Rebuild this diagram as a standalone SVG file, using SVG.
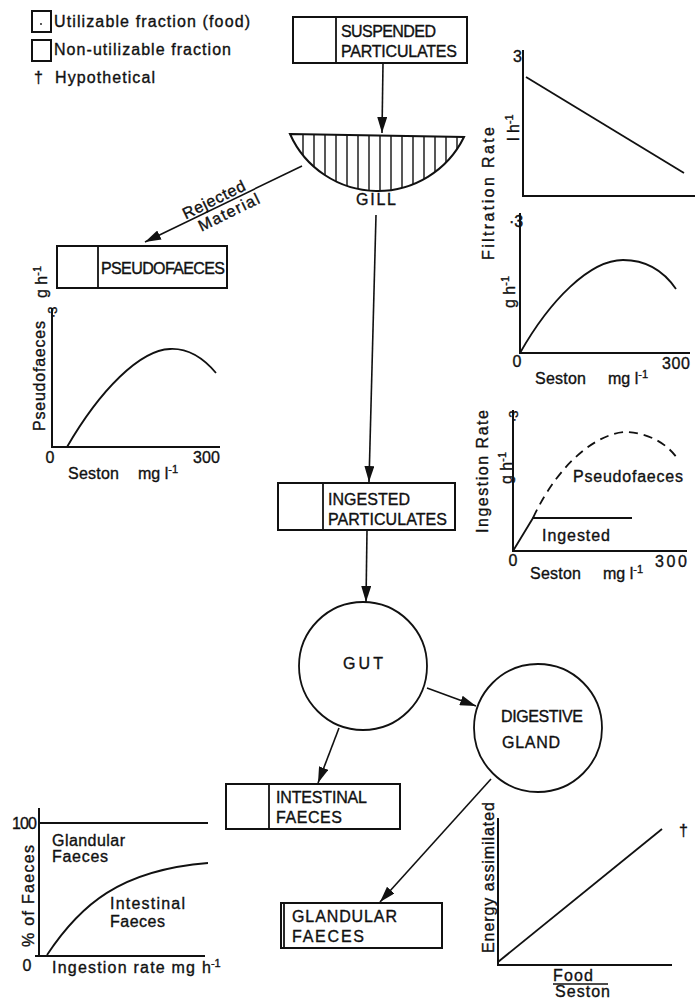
<svg xmlns="http://www.w3.org/2000/svg" width="695" height="999" viewBox="0 0 695 999">
<style>
text{font-family:"Liberation Sans",Arial,sans-serif;fill:#111;stroke:#111;stroke-width:0.35;}
.box{fill:#fff;stroke:#111;stroke-width:2;}
.ln{fill:none;stroke:#111;stroke-width:1.8;}
.ax{fill:none;stroke:#111;stroke-width:2;}
.crv{fill:none;stroke:#111;stroke-width:1.8;}
.bt{font-size:16px;}
.gt{font-size:16px;}
.sup{font-size:11px;}
.con{fill:none;stroke:#111;stroke-width:1.6;marker-end:url(#ah);}
</style>
<defs>
<marker id="ah" viewBox="0 0 16 10" refX="16" refY="5" markerWidth="16" markerHeight="10" markerUnits="userSpaceOnUse" orient="auto">
<path d="M0,0 L16,5 L0,10 z" fill="#111"/>
</marker>
<clipPath id="gillclip"><path d="M290,134 L464,137 A96 96 0 0 1 290,134 Z"/></clipPath>
</defs>
<rect width="695" height="999" fill="#fff"/>

<g id="legend">
<rect class="box" x="32" y="11" width="19" height="21"/>
<circle cx="41" cy="24" r="0.9" fill="#111"/>
<text class="gt" x="54" y="27" textLength="196">Utilizable fraction (food)</text>
<rect class="box" x="32" y="40" width="19" height="21"/>
<text class="gt" x="54" y="55" textLength="177">Non-utilizable fraction</text>
<text class="gt" x="34" y="83">†</text>
<text class="gt" x="55" y="83" textLength="100">Hypothetical</text>
</g>

<g id="suspended">
<rect class="box" x="293" y="17" width="174" height="46"/>
<line class="ln" x1="336" y1="17" x2="336" y2="63"/>
<text class="bt" x="341" y="37" textLength="95">SUSPENDED</text>
<text class="bt" x="341" y="57" textLength="116">PARTICULATES</text>
</g>

<g id="gill">
<g clip-path="url(#gillclip)" stroke="#111" stroke-width="1.4">
<line x1="303" y1="130" x2="303" y2="200"/><line x1="314" y1="130" x2="314" y2="200"/>
<line x1="325" y1="130" x2="325" y2="200"/><line x1="336" y1="130" x2="336" y2="200"/>
<line x1="347" y1="130" x2="347" y2="200"/><line x1="358" y1="130" x2="358" y2="200"/>
<line x1="369" y1="130" x2="369" y2="200"/><line x1="380" y1="130" x2="380" y2="200"/>
<line x1="391" y1="130" x2="391" y2="200"/><line x1="402" y1="130" x2="402" y2="200"/>
<line x1="413" y1="130" x2="413" y2="200"/><line x1="424" y1="130" x2="424" y2="200"/>
<line x1="435" y1="130" x2="435" y2="200"/><line x1="446" y1="130" x2="446" y2="200"/>
<line x1="457" y1="130" x2="457" y2="200"/>
</g>
<path d="M290,134 L464,137 A96 96 0 0 1 290,134 Z" fill="none" stroke="#111" stroke-width="2"/>
<text class="bt" x="356" y="205" textLength="40">GILL</text>
</g>

<g id="pseudofaeces">
<rect class="box" x="57" y="246" width="170" height="42"/>
<line class="ln" x1="98" y1="246" x2="98" y2="288"/>
<text class="bt" x="101" y="274" textLength="124">PSEUDOFAECES</text>
</g>

<g id="ingested">
<rect class="box" x="278" y="483" width="177" height="47"/>
<line class="ln" x1="323" y1="483" x2="323" y2="530"/>
<text class="bt" x="328" y="505" textLength="82">INGESTED</text>
<text class="bt" x="328" y="525" textLength="119">PARTICULATES</text>
</g>

<g id="gut">
<circle cx="363" cy="666" r="64" fill="none" stroke="#111" stroke-width="1.8"/>
<text class="bt" x="343" y="669" textLength="40">GUT</text>
</g>

<g id="gland">
<circle cx="538" cy="728" r="64" fill="none" stroke="#111" stroke-width="1.8"/>
<text class="bt" x="501" y="722" textLength="82">DIGESTIVE</text>
<text class="bt" x="502" y="748" textLength="58">GLAND</text>
</g>

<g id="intestinal">
<rect class="box" x="226" y="784" width="174" height="45"/>
<line class="ln" x1="269" y1="784" x2="269" y2="829"/>
<text class="bt" x="276" y="803" textLength="91">INTESTINAL</text>
<text class="bt" x="276" y="823" textLength="66">FAECES</text>
</g>

<g id="glandular">
<rect class="box" x="281" y="903" width="161" height="45"/>
<line class="ln" x1="284" y1="903" x2="284" y2="948"/>
<text class="bt" x="292" y="922" textLength="105">GLANDULAR</text>
<text class="bt" x="292" y="942" textLength="72">FAECES</text>
</g>

<g id="connectors">
<line class="con" x1="383" y1="63" x2="382" y2="133"/>
<line class="con" x1="302" y1="166" x2="145" y2="242"/>
<line class="con" x1="376" y1="215" x2="369" y2="482"/>
<line class="con" x1="367" y1="530" x2="366" y2="602"/>
<line class="con" x1="427" y1="688" x2="476" y2="706"/>
<line class="con" x1="339" y1="728" x2="318" y2="783"/>
<line class="con" x1="491" y1="779" x2="380" y2="902"/>
<g transform="translate(222,205) rotate(-26)">
<text class="gt" x="-5" y="-3" text-anchor="middle" textLength="68">Rejected</text>
<text class="gt" x="3" y="15" text-anchor="middle" textLength="66">Material</text>
</g>
</g>

<g id="graph-filtration">
<polyline class="ax" points="523,50 523,196 695,196"/>
<line class="ln" x1="526" y1="77" x2="684" y2="173"/>
<text class="gt" x="513" y="62">3</text>
<text class="gt" transform="translate(494,260) rotate(-90)" textLength="133">Filtration  Rate</text>
<text class="gt" transform="translate(519,141) rotate(-90)">l  h<tspan class="sup" dy="-6">-1</tspan></text>
</g>

<g id="graph-filtration2">
<polyline class="ax" points="520,213 520,353 690,353"/>
<path class="crv" d="M520,353 C550,300 590,260 623,260 C648,260 665,273 676,289"/>
<text class="gt" x="509" y="227">·3</text>
<text class="gt" transform="translate(515,308) rotate(-90)">g  h<tspan class="sup" dy="-6">-1</tspan></text>
<text class="gt" x="517" y="367" text-anchor="middle">0</text>
<text class="gt" x="662" y="369" textLength="28">300</text>
<text class="gt" x="535" y="384" textLength="51">Seston</text>
<text class="gt" x="608" y="384">mg  l<tspan class="sup" dy="-6">-1</tspan></text>
</g>

<g id="graph-pseudofaeces">
<polyline class="ax" points="52,308 52,447 220,447"/>
<path class="crv" d="M67,447 C100,390 140,350 170,349 C190,348 205,360 216,373"/>
<text transform="translate(57,318) rotate(-90)" style="font-size:13px">·3</text>
<text class="gt" transform="translate(45,431) rotate(-90)" textLength="110">Pseudofaeces</text>
<text class="gt" transform="translate(47,298) rotate(-90)">g  h<tspan class="sup" dy="-6">-1</tspan></text>
<text class="gt" x="50" y="463" text-anchor="middle">0</text>
<text class="gt" x="193" y="463" textLength="27">300</text>
<text class="gt" x="68" y="479" textLength="51">Seston</text>
<text class="gt" x="138" y="479">mg  l<tspan class="sup" dy="-6">-1</tspan></text>
</g>

<g id="graph-ingestion">
<polyline class="ax" points="513,410 513,551 687,551"/>
<polyline class="ln" points="513,551 533,518 632,518"/>
<path class="crv" stroke-dasharray="9,6" d="M533,518 C560,460 600,432 627,432 C650,433 668,445 677,458"/>
<text transform="translate(518,422) rotate(-90)" style="font-size:13px">·3</text>
<text class="gt" transform="translate(488,533) rotate(-90)" textLength="123">Ingestion Rate</text>
<text class="gt" transform="translate(512,484) rotate(-90)">g  h<tspan class="sup" dy="-6">-1</tspan></text>
<text class="gt" x="573" y="482" textLength="110">Pseudofaeces</text>
<text class="gt" x="542" y="541" textLength="68">Ingested</text>
<text class="gt" x="513" y="566" text-anchor="middle">0</text>
<text class="gt" x="655" y="567" textLength="32">300</text>
<text class="gt" x="530" y="579" textLength="51">Seston</text>
<text class="gt" x="603" y="579">mg  l<tspan class="sup" dy="-6">-1</tspan></text>
</g>

<g id="graph-faeces">
<polyline class="ax" points="39,808 39,956"/>
<line class="ax" x1="35" y1="956" x2="205" y2="956"/>
<line class="ax" x1="39" y1="823" x2="208" y2="823"/>
<path class="crv" d="M47,955 C80,905 120,870 208,863"/>
<text class="gt" x="12" y="829" textLength="25">100</text>
<text class="gt" x="27" y="971" text-anchor="middle">0</text>
<text class="gt" transform="translate(34,947) rotate(-90)" textLength="102">% of Faeces</text>
<text class="gt" x="52" y="846" textLength="73">Glandular</text>
<text class="gt" x="52" y="862" textLength="56">Faeces</text>
<text class="gt" x="110" y="909" textLength="75">Intestinal</text>
<text class="gt" x="110" y="927" textLength="55">Faeces</text>
<text class="gt" x="52" y="973" textLength="143">Ingestion  rate  mg</text>
<text class="gt" x="202" y="973">h<tspan class="sup" dy="-6">-1</tspan></text>
</g>

<g id="graph-energy">
<polyline class="ax" points="498,818 498,965 672,965"/>
<line class="ln" x1="498" y1="962" x2="662" y2="829"/>
<text class="gt" x="679" y="836">†</text>
<text class="gt" transform="translate(494,953) rotate(-90)" textLength="151">Energy assimilated</text>
<text class="gt" x="553" y="981" textLength="40">Food</text>
<line x1="553" y1="984" x2="608" y2="984" stroke="#111" stroke-width="1.5"/>
<text class="gt" x="555" y="997" textLength="55">Seston</text>
</g>
</svg>
